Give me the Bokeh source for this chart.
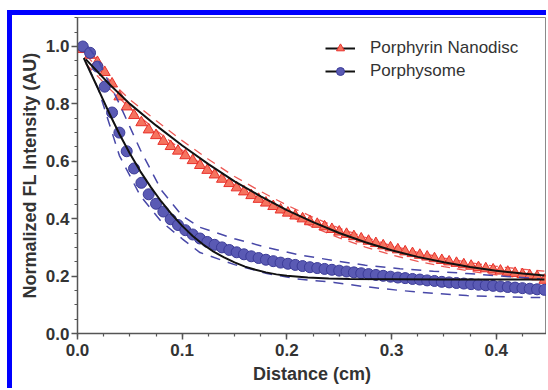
from bokeh.plotting import figure
from bokeh.models import (Range1d, SingleIntervalTicker, PrintfTickFormatter,
                          Legend, LegendItem, InlineStyleSheet)
from bokeh.embed import file_html
from bokeh.resources import INLINE

# ---------------- data ----------------
distance = [0.005, 0.012, 0.019, 0.026, 0.033, 0.040, 0.047, 0.054, 0.061, 0.068,
            0.075, 0.082, 0.089, 0.096, 0.103, 0.110, 0.117, 0.124, 0.131, 0.138,
            0.145, 0.152, 0.159, 0.166, 0.173, 0.180, 0.187, 0.194, 0.201, 0.208,
            0.215, 0.222, 0.229, 0.236, 0.243, 0.250, 0.257, 0.264, 0.271, 0.278,
            0.285, 0.292, 0.299, 0.306, 0.313, 0.320, 0.327, 0.334, 0.341, 0.348,
            0.355, 0.362, 0.369, 0.376, 0.383, 0.390, 0.397, 0.404, 0.411, 0.418,
            0.425, 0.432, 0.439, 0.446]

nanodisc = [0.99, 0.97, 0.945, 0.91, 0.87, 0.825, 0.79, 0.76, 0.735, 0.71,
            0.69, 0.67, 0.652, 0.636, 0.62, 0.603, 0.586, 0.569, 0.553, 0.538,
            0.523, 0.508, 0.494, 0.481, 0.468, 0.455, 0.443, 0.431, 0.42, 0.41,
            0.40, 0.39, 0.381, 0.372, 0.363, 0.354, 0.346, 0.338, 0.33, 0.322,
            0.314, 0.306, 0.299, 0.292, 0.285, 0.279, 0.273, 0.267, 0.261, 0.255,
            0.25, 0.245, 0.24, 0.235, 0.23, 0.226, 0.222, 0.218, 0.214, 0.21,
            0.206, 0.202, 0.198, 0.186]

porphysome = [1.0, 0.978, 0.93, 0.86, 0.77, 0.70, 0.635, 0.575, 0.525, 0.485,
              0.452, 0.425, 0.398, 0.378, 0.36, 0.345, 0.331, 0.319, 0.309, 0.30,
              0.291, 0.283, 0.276, 0.269, 0.263, 0.257, 0.252, 0.247, 0.243, 0.239,
              0.235, 0.231, 0.228, 0.225, 0.222, 0.219, 0.216, 0.213, 0.21, 0.207,
              0.204, 0.201, 0.198, 0.195, 0.193, 0.19, 0.188, 0.185, 0.183, 0.18,
              0.178, 0.176, 0.174, 0.172, 0.17, 0.168, 0.166, 0.164, 0.162, 0.16,
              0.158, 0.156, 0.154, 0.152]

# fitted curves (black)
fit_x = [0.008, 0.03, 0.05, 0.075, 0.1, 0.125, 0.15, 0.175, 0.2, 0.225,
         0.25, 0.275, 0.3, 0.325, 0.35, 0.375, 0.4, 0.425, 0.446]
nanodisc_fit = [0.955, 0.87, 0.80, 0.725, 0.655, 0.59, 0.53, 0.478, 0.43, 0.388,
                0.35, 0.318, 0.29, 0.267, 0.248, 0.232, 0.219, 0.209, 0.202]

pfit_x = [0.006, 0.02, 0.03, 0.04, 0.05, 0.06, 0.07, 0.08, 0.09, 0.10, 0.11, 0.12,
          0.13, 0.14, 0.15, 0.16, 0.17, 0.18, 0.19, 0.20, 0.22, 0.24, 0.26, 0.30,
          0.35, 0.40, 0.446]
porphysome_fit = [0.96, 0.85, 0.77, 0.695, 0.627, 0.565, 0.51, 0.46, 0.415, 0.375,
                  0.34, 0.31, 0.285, 0.265, 0.248, 0.233, 0.222, 0.213, 0.206, 0.201,
                  0.195, 0.192, 0.19, 0.189, 0.188, 0.188, 0.188]

# confidence bands (dashed)
nd_upper = [0.97, 0.885, 0.815, 0.742, 0.672, 0.607, 0.547, 0.495, 0.447, 0.405,
            0.367, 0.335, 0.306, 0.283, 0.263, 0.247, 0.234, 0.224, 0.217]
nd_lower = [0.94, 0.855, 0.785, 0.708, 0.638, 0.573, 0.513, 0.461, 0.413, 0.371,
            0.333, 0.301, 0.274, 0.251, 0.233, 0.217, 0.204, 0.194, 0.187]

band_x = [0.01, 0.02, 0.04, 0.06, 0.08, 0.10, 0.117, 0.15, 0.181, 0.21, 0.245,
          0.275, 0.308, 0.34, 0.372, 0.41, 0.442]
ps_upper = [1.0, 0.95, 0.80, 0.64, 0.50, 0.41, 0.37, 0.33, 0.30, 0.275, 0.254,
            0.238, 0.226, 0.217, 0.209, 0.199, 0.19]
ps_lower = [0.93, 0.85, 0.62, 0.48, 0.39, 0.33, 0.282, 0.24, 0.209, 0.19, 0.178,
            0.163, 0.15, 0.14, 0.132, 0.128, 0.125]

x_ticks_interval = 0.1
y_ticks_interval = 0.2

# ---------------- figure ----------------
p = figure(width=534, height=373, output_backend="svg", toolbar_location=None,
           x_range=Range1d(0, 0.448), y_range=Range1d(0, 1.101),
           min_border_left=65, min_border_right=0, min_border_top=2,
           min_border_bottom=55)
# blue frame of the picture (top and left edges), drawn as a shadow of the host only
p.stylesheets = [InlineStyleSheet(css=(
    ":host { margin-left: 12px; margin-top: 15px; "
    "box-shadow: 0 -5px 0 0 #0000ff, -5px 0 0 0 #0000ff, -5px -5px 0 0 #0000ff; }"))]

p.grid.visible = False
p.outline_line_color = "#8a8a8a"
p.outline_line_width = 1
p.background_fill_color = "white"
p.border_fill_color = "white"

red_fill = "#f5735f"
red_line = "#e8302a"
blue_fill = "#5a5ab4"
blue_line = "#3c3c98"

p.line(fit_x, nd_upper, line_color=red_line, line_width=1.3, line_dash="9 7", line_alpha=0.8)
p.line(fit_x, nd_lower, line_color=red_line, line_width=1.3, line_dash="9 7", line_alpha=0.8)

r_red = p.scatter(distance, nanodisc, marker="triangle", size=11,
                  fill_color=red_fill, line_color=red_line, line_width=1)
r_blue = p.scatter(distance, porphysome, marker="circle", size=11,
                   fill_color=blue_fill, line_color=blue_line, line_width=1)

p.line(band_x, ps_upper, line_color="#4848a8", line_width=1.5, line_dash="10 8")
p.line(band_x, ps_lower, line_color="#4848a8", line_width=1.5, line_dash="10 8")

l_red = p.line(fit_x, nanodisc_fit, line_color="#111111", line_width=2)
l_blue = p.line(pfit_x, porphysome_fit, line_color="#111111", line_width=2)

legend = Legend(items=[LegendItem(label="Porphyrin Nanodisc", renderers=[l_red, r_red]),
                       LegendItem(label="Porphysome", renderers=[l_blue, r_blue])],
                location=(248, 252), padding=0, margin=0, spacing=3,
                glyph_width=30, glyph_height=20, label_standoff=15,
                label_text_font="Liberation Sans", label_text_font_size="17px",
                label_text_color="#333333", background_fill_alpha=0,
                border_line_alpha=0)
p.add_layout(legend)

for ax in (p.xaxis[0], p.yaxis[0]):
    ax.axis_line_color = "#555555"
    ax.axis_line_width = 1.5
    ax.major_tick_line_color = "#555555"
    ax.minor_tick_line_color = "#555555"
    ax.major_tick_line_width = 1.5
    ax.minor_tick_line_width = 1.2
    ax.major_tick_in = 0
    ax.major_tick_out = 6
    ax.minor_tick_in = 0
    ax.minor_tick_out = 3
    ax.major_label_text_font = "Liberation Sans"
    ax.major_label_text_font_size = "17px"
    ax.major_label_text_font_style = "bold"
    ax.major_label_text_color = "#333333"
    ax.axis_label_text_font = "Liberation Sans"
    ax.axis_label_text_font_size = "18px"
    ax.axis_label_text_font_style = "bold"
    ax.axis_label_text_color = "#333333"
    ax.formatter = PrintfTickFormatter(format="%.1f")

p.xaxis.ticker = SingleIntervalTicker(interval=x_ticks_interval, num_minor_ticks=4)
p.yaxis.ticker = SingleIntervalTicker(interval=y_ticks_interval, num_minor_ticks=4)
p.xaxis.axis_label = "Distance (cm)"
p.yaxis.axis_label = "Normalized FL Intensity (AU)"
p.xaxis.major_label_standoff = 4
p.yaxis.major_label_standoff = 2
p.xaxis.axis_label_standoff = 5
p.yaxis.axis_label_standoff = 3

open("out.html", "w").write(file_html(p, INLINE))
